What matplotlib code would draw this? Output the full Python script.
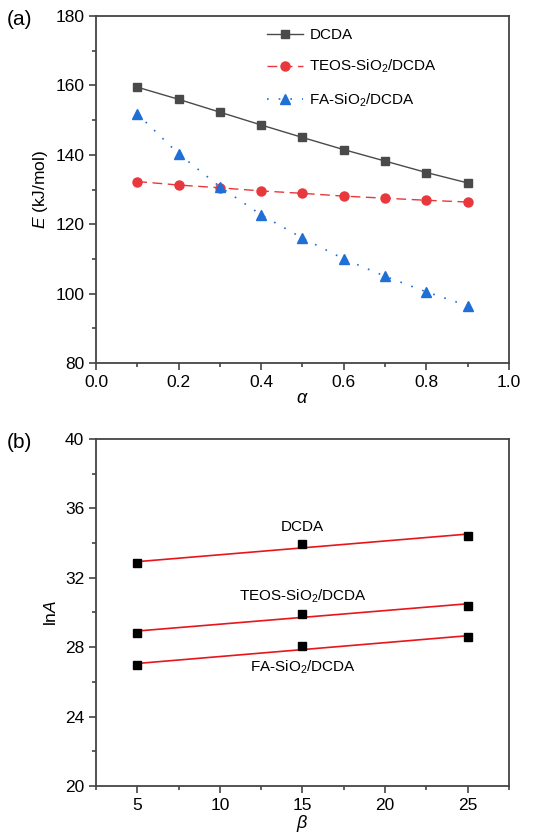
import numpy as np
import matplotlib.pyplot as plt
from matplotlib.ticker import MultipleLocator

plt.rcParams['font.family'] = ['Liberation Sans', 'DejaVu Sans']
plt.rcParams['mathtext.fontset'] = 'custom'
plt.rcParams['mathtext.it'] = 'Liberation Sans:italic'
plt.rcParams['mathtext.rm'] = 'Liberation Sans'

# --- (a) données E vs alpha ---
alpha = [0.1, 0.2, 0.3, 0.4, 0.5, 0.6, 0.7, 0.8, 0.9]
E_dcda = [159.5, 156.0, 152.3, 148.6, 145.0, 141.5, 138.2, 134.9, 131.9]
E_teos = [132.3, 131.3, 130.5, 129.6, 128.9, 128.1, 127.5, 126.9, 126.4]
E_fa = [151.8, 140.3, 130.8, 122.7, 116.0, 110.0, 105.0, 100.5, 96.5]

# --- (b) données lnA vs beta ---
beta = [5, 15, 25]
lnA_dcda = [32.83, 33.92, 34.42]
lnA_teos = [28.83, 29.92, 30.40]
lnA_fa = [26.96, 28.06, 28.56]
labels_b = ["DCDA", "TEOS-SiO$_2$/DCDA", "FA-SiO$_2$/DCDA"]
label_y_b = [34.95, 30.95, 26.85]

spine_c = '#444444'

fig = plt.figure(figsize=(5.47, 8.39), dpi=100)
ax1 = fig.add_axes([0.1755, 0.5673, 0.755, 0.4136])
ax2 = fig.add_axes([0.1755, 0.0632, 0.755, 0.4136])

def style(ax):
    for s in ax.spines.values():
        s.set_color(spine_c)
        s.set_linewidth(1.3)
    ax.tick_params(which='both', direction='out', color=spine_c, width=1.2,
                   labelsize=12.5, top=False, right=False)
    ax.tick_params(which='major', length=5)
    ax.tick_params(which='minor', length=3)

# ---- panneau (a) ----
ax1.plot(alpha, E_dcda, '-s', color='#4a4a4a', lw=1.0, ms=5.5, label='DCDA')
ax1.plot(alpha, E_teos, '--o', color='#e8383d', lw=1.0, ms=6.5, dashes=(7, 4),
         label='TEOS-SiO$_2$/DCDA')
ax1.plot(alpha, E_fa, ':^', color='#1f6fd6', lw=1.2, ms=7, dashes=(1, 6),
         label='FA-SiO$_2$/DCDA')
ax1.set_xlim(0, 1.0)
ax1.set_ylim(80, 180)
ax1.xaxis.set_major_locator(MultipleLocator(0.2))
ax1.xaxis.set_minor_locator(MultipleLocator(0.1))
ax1.yaxis.set_major_locator(MultipleLocator(20))
ax1.yaxis.set_minor_locator(MultipleLocator(10))
ax1.set_xlabel(r'$\mathit{\alpha}$', fontsize=13, labelpad=0)
ax1.set_ylabel(r'$E$ (kJ/mol)', fontsize=12.5, labelpad=4)
style(ax1)
ax1.legend(loc='upper left', bbox_to_anchor=(0.38, 1.005), frameon=False,
           fontsize=11, handlelength=2.4, labelspacing=1.05, handletextpad=0.4)
fig.text(0.012, 0.977, '(a)', fontsize=15, va='center')

# ---- panneau (b) ----
for y, lab, ly in zip([lnA_dcda, lnA_teos, lnA_fa], labels_b, label_y_b):
    k, b = np.polyfit(beta, y, 1)
    bx = np.array([beta[0], beta[-1]])
    ax2.plot(bx, k * bx + b, '-', color='#e8161b', lw=1.2, zorder=2)
    ax2.plot(beta, y, 's', color='black', ms=5.5, zorder=3)
    ax2.text(15, ly, lab, ha='center', va='center', fontsize=11)
ax2.set_xlim(2.5, 27.5)
ax2.set_ylim(20, 40)
ax2.xaxis.set_major_locator(MultipleLocator(5))
ax2.xaxis.set_minor_locator(MultipleLocator(2.5))
ax2.yaxis.set_major_locator(MultipleLocator(4))
ax2.yaxis.set_minor_locator(MultipleLocator(2))
ax2.set_xlabel(r'$\mathit{\beta}$', fontsize=13, labelpad=0)
ax2.set_ylabel(r'ln$A$', fontsize=12.5, labelpad=4)
style(ax2)
fig.text(0.012, 0.473, '(b)', fontsize=15, va='center')

fig.savefig('out.png', dpi=100)
